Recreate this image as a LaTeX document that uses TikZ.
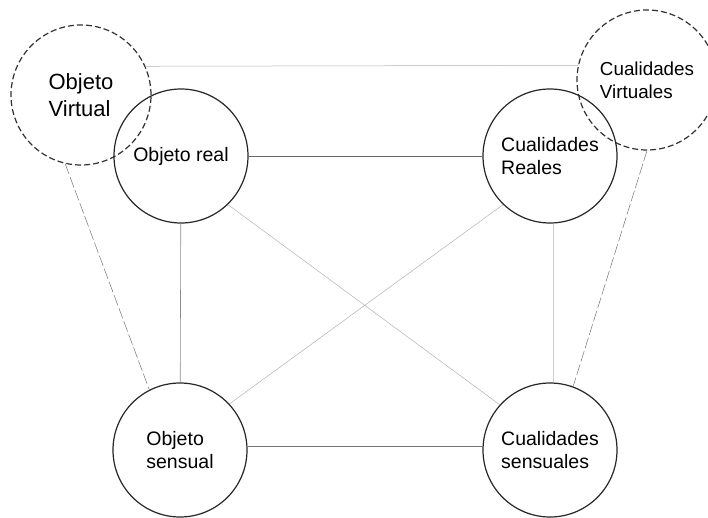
\documentclass[tikz,border=0pt]{standalone}
\usepackage{fontspec}
\setmainfont{Liberation Sans}
\begin{document}
\begin{tikzpicture}[x=1pt,y=-1pt,
  realc/.style={circle,draw=black!85,line width=1.2pt,minimum size=134pt,inner sep=0pt,align=left,font=\fontsize{19.5}{23}\selectfont},
  virtc/.style={circle,draw=black!80,line width=1.2pt,dash pattern=on 6pt off 3pt,minimum size=140pt,inner sep=0pt,align=left},
  link/.style={draw=black!45,line width=0.6pt},
  faint/.style={draw=black!30,line width=0.5pt},
  vlink/.style={draw=black!55,line width=0.5pt,dash pattern=on 11pt off 3pt}]
\useasboundingbox (0,0) rectangle (708,518);
\begin{scope}
\clip (0,0) rectangle (708,518);
\node[virtc,font=\fontsize{22}{27}\selectfont] (OV) at (81,95) {Objeto\\Virtual};
\node[virtc,font=\fontsize{18.8}{23}\selectfont] (CV) at (647,80) {Cualidades\\Virtuales};
\end{scope}
\node[realc] (OR) at (181,156) {Objeto real};
\node[realc] (CR) at (550,156) {Cualidades\\Reales};
\node[realc] (OS) at (180,450) {Objeto\\sensual};
\node[realc] (CS) at (550,450) {Cualidades\\sensuales};
\draw[faint] (OV.24.5) -- (CV.168.5);
\draw[link,draw=black!60] (OR) -- (CR);
\draw[link] (OR) -- (OS);
\draw[link,draw=black!55] (OS.3) -- (CS.177);
\draw[faint,draw=black!20] (CR.-87) -- (CS.87);
\draw[faint] (OR.-46) -- (CS.138);
\draw[faint] (CR.226) -- (OS.43);
\draw[vlink] (OV.257.6) -- (OS.117.3);
\draw[vlink] (CV.270) -- (CS.70);
\end{tikzpicture}
\end{document}
